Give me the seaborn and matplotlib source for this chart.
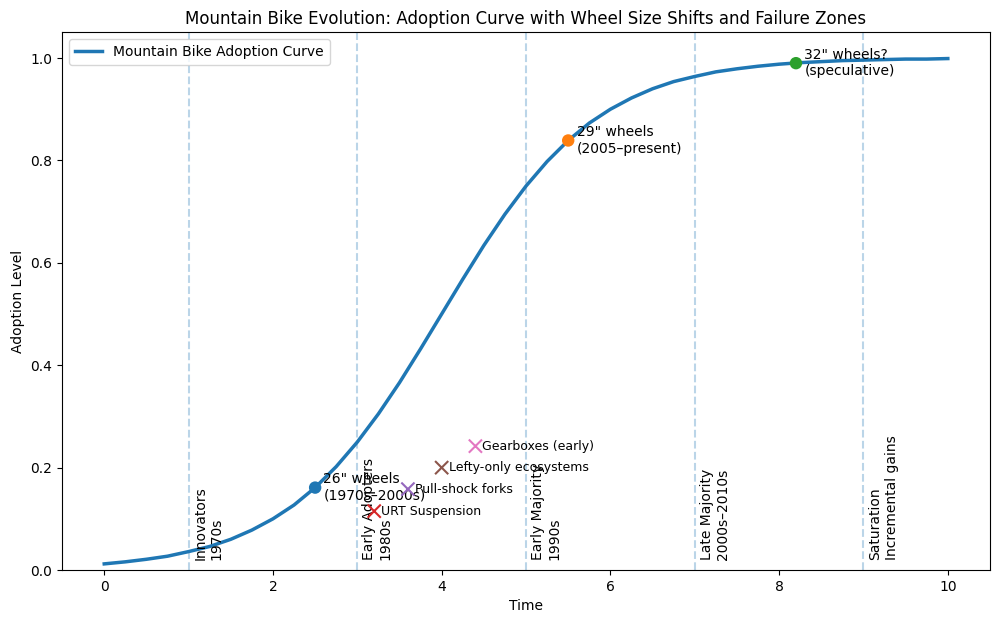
import numpy as np
import pandas as pd
import matplotlib
matplotlib.use('Agg')
import matplotlib.pyplot as plt
import seaborn as sns

# Adoption curve, every 0.25 time units
time_points = [0, 0.25, 0.5, 0.75, 1.0, 1.25, 1.5, 1.75, 2.0, 2.25, 2.5, 2.75,
               3.0, 3.25, 3.5, 3.75, 4.0, 4.25, 4.5, 4.75, 5.0, 5.25, 5.5, 5.75,
               6.0, 6.25, 6.5, 6.75, 7.0, 7.25, 7.5, 7.75, 8.0, 8.25, 8.5, 8.75,
               9.0, 9.25, 9.5, 9.75, 10.0]
adoption = [0.012, 0.016, 0.021, 0.027, 0.036, 0.046, 0.060, 0.078, 0.100, 0.127,
            0.161, 0.202, 0.250, 0.305, 0.366, 0.432, 0.500, 0.568, 0.634, 0.695,
            0.750, 0.798, 0.839, 0.873, 0.900, 0.922, 0.940, 0.954, 0.964, 0.973,
            0.979, 0.984, 0.988, 0.991, 0.993, 0.995, 0.996, 0.997, 0.998, 0.998,
            0.999]

# Adoption stages
stage_x = [1, 3, 5, 7, 9]
stage_labels = ["Innovators\n1970s", "Early Adopters\n1980s", "Early Majority\n1990s",
                "Late Majority\n2000s\u20132010s", "Saturation\nIncremental gains"]

# Wheel size shifts
wheel_x = [2.5, 5.5, 8.2]
wheel_y = [0.161, 0.839, 0.990]
wheel_labels = ['26" wheels\n(1970s\u20132000s)', '29" wheels\n(2005\u2013present)',
                '32" wheels?\n(speculative)']
wheel_colors = ['tab:blue', 'tab:orange', 'tab:green']

# Failure zones
fail_x = [3.2, 3.6, 4.0, 4.4]
fail_y = [0.115, 0.158, 0.20, 0.242]
fail_labels = ["URT Suspension", "Pull-shock forks", "Lefty-only ecosystems", "Gearboxes (early)"]
fail_colors = ['tab:red', 'tab:purple', 'tab:brown', 'tab:pink']

curve = pd.DataFrame({'Time': time_points, 'Adoption Level': adoption})

fig = plt.figure(figsize=(10.01, 6.24), dpi=100)
ax = fig.add_axes([0.062, 0.0865, 0.927, 0.8615])

sns.lineplot(data=curve, x='Time', y='Adoption Level', ax=ax, linewidth=2.5,
             color='tab:blue', label='Mountain Bike Adoption Curve')

# Stage boundaries
for sx, lab in zip(stage_x, stage_labels):
    ax.axvline(sx, linestyle='--', alpha=0.3, color='tab:blue')
    ax.text(sx + 0.06, 0.02, lab, rotation=90, va='bottom', ha='left', fontsize=10)

# Wheel size points
wheels = pd.DataFrame({'x': wheel_x, 'y': wheel_y, 'c': wheel_colors})
sns.scatterplot(data=wheels, x='x', y='y', hue='c', palette=dict(zip(wheel_colors, wheel_colors)),
                s=80, ax=ax, legend=False, edgecolor='none', zorder=3)
for wx, wy, lab in zip(wheel_x, wheel_y, wheel_labels):
    ax.annotate(lab, (wx, wy), xytext=(6, 0), textcoords='offset points',
                va='center', ha='left', fontsize=10)

# Failure zones
fails = pd.DataFrame({'x': fail_x, 'y': fail_y, 'c': fail_colors})
sns.scatterplot(data=fails, x='x', y='y', hue='c', palette=dict(zip(fail_colors, fail_colors)),
                marker='x', s=90, linewidth=1.5, ax=ax, legend=False, zorder=3)
for fx, fy, lab in zip(fail_x, fail_y, fail_labels):
    ax.annotate(lab, (fx, fy), xytext=(5, 0), textcoords='offset points',
                va='center', ha='left', fontsize=9)

ax.set_xlim(-0.5, 10.5)
ax.set_ylim(0, 1.05)
ax.set_xlabel('Time')
ax.set_ylabel('Adoption Level')
ax.set_title('Mountain Bike Evolution: Adoption Curve with Wheel Size Shifts and Failure Zones')
ax.legend(loc='upper left')

fig.savefig('out.png', dpi=100)
